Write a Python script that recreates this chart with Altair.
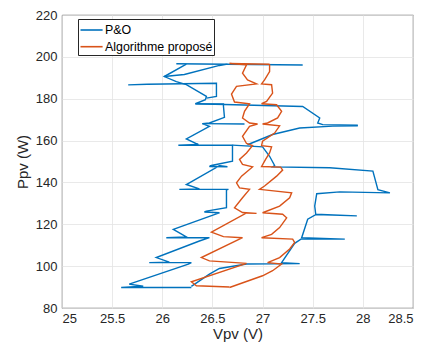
import altair as alt
import pandas as pd

series_names = ["P&O", "Algorithme proposé"]
series_colors = ["#0072BD", "#D95319"]
x_ticks = [25, 25.5, 26, 26.5, 27, 27.5, 28, 28.5]
y_ticks = [80, 100, 120, 140, 160, 180, 200, 220]

# P&O trajectory pieces (Vpv, Ppv)
po_segments_v = [
    [26.29, 25.59, 25.81, 25.67, 26.26, 26.29, 25.87, 26.07, 25.94, 26.37, 26.47, 26.04, 26.24, 26.11,
     26.56, 26.57, 26.42, 26.44, 26.64, 26.64, 26.66, 26.17, 26.37, 26.24, 26.57, 26.65, 26.47, 26.49,
     26.70, 26.70, 26.16, 26.36, 26.24, 26.47, 26.40, 26.47, 26.62, 26.61, 26.61, 26.33, 26.43, 26.44,
     26.24, 26.14, 26.02, 26.24],
    [26.40, 26.82],
    [25.66, 25.85, 26.54, 26.54, 26.44],
    [26.02, 26.22, 26.57, 26.65],
    [26.14, 27.40],
    [26.33, 27.40, 27.57, 27.55, 27.60, 27.95],
    [26.85, 27.10, 27.37, 27.70, 27.95],
    [26.70, 27.00, 27.07, 27.12, 27.10, 27.67, 28.10, 28.15, 28.27, 27.77, 27.54, 27.52, 27.53, 27.94,
     27.53, 27.45, 27.39, 27.82, 27.39, 27.32, 27.19, 27.37, 26.84, 26.57, 26.47, 26.29],
]
po_segments_p = [
    [89.8, 89.8, 90.4, 91.4, 101.0, 101.7, 101.7, 101.9, 104.1, 112.0, 113.6, 113.6, 114.0, 117.6,
     125.3, 125.5, 125.9, 126.3, 127.9, 136.5, 136.7, 136.7, 136.9, 139.0, 148.0, 147.5, 147.6, 148.1,
     150.1, 157.8, 157.8, 158.1, 160.8, 166.8, 168.1, 168.4, 171.1, 176.4, 177.5, 177.6, 179.5, 181.1,
     186.7, 188.2, 190.6, 196.5],
    [168.1, 167.9],
    [186.6, 186.9, 187.4, 181.1, 180.3],
    [190.6, 191.6, 195.9, 196.5],
    [196.7, 196.1],
    [177.6, 176.3, 170.8, 168.4, 167.6, 167.3],
    [158.0, 162.9, 166.0, 166.9, 167.0],
    [157.8, 157.0, 152.5, 148.1, 147.4, 147.0, 145.4, 136.5, 135.0, 135.5, 134.6, 128.7, 124.8, 124.0,
     124.6, 122.4, 113.6, 112.9, 113.1, 110.9, 101.7, 101.2, 101.0, 98.9, 96.2, 90.3],
]

# Algorithme proposé trajectory (Vpv, Ppv)
alg_segments_v = [
    [26.67, 26.34, 26.29, 26.84, 26.47, 26.39, 26.80, 26.61, 26.49, 26.84, 26.94, 26.80, 26.72, 26.80,
     26.87, 26.77, 26.74, 26.79, 26.90, 26.80, 26.77, 26.84, 26.90, 26.84, 26.80, 26.87, 26.95, 26.87,
     26.80, 26.82, 26.87, 26.72, 26.69, 26.74, 26.94, 26.85, 26.80, 26.84, 26.67, 27.07],
    [27.07, 27.07, 27.02, 26.99, 27.09, 27.10, 27.04, 26.99, 27.14, 27.19, 27.15, 27.05, 27.00, 27.17,
     27.12, 27.00, 26.99, 27.09, 27.07, 27.03, 26.99, 27.18, 27.20, 27.14, 27.02, 26.97, 27.29, 27.27,
     27.17, 27.00, 27.20, 27.24, 27.17, 27.09, 26.99, 27.30, 27.32, 27.27, 27.17, 27.05, 27.19, 27.10,
     27.00, 26.67],
]
alg_segments_p = [
    [90.0, 90.6, 92.5, 101.3, 102.5, 104.1, 113.6, 114.1, 116.3, 125.4, 125.2, 125.6, 127.9, 132.7,
     136.7, 137.4, 139.8, 143.0, 147.4, 148.6, 151.0, 154.1, 157.6, 158.6, 162.0, 166.8, 167.9, 168.4,
     170.8, 174.0, 177.6, 178.4, 182.2, 185.9, 187.1, 189.0, 192.2, 196.2, 196.8, 196.5],
    [196.5, 193.0, 189.0, 187.1, 186.7, 182.7, 178.7, 177.6, 177.1, 174.0, 170.8, 168.4, 167.9, 167.0,
     163.6, 159.7, 157.6, 157.0, 154.1, 151.0, 147.6, 147.3, 145.9, 143.0, 138.3, 136.7, 135.0, 132.7,
     128.7, 125.5, 124.8, 123.1, 118.4, 115.2, 113.6, 112.9, 111.3, 108.2, 104.1, 101.7, 101.0, 97.8,
     95.4, 89.8],
]

rows = []
for name, segs_v, segs_p, tag in [
    (series_names[0], po_segments_v, po_segments_p, "po"),
    (series_names[1], alg_segments_v, alg_segments_p, "alg"),
]:
    for k, (vs, ps) in enumerate(zip(segs_v, segs_p)):
        for i, (v, p) in enumerate(zip(vs, ps)):
            rows.append({"series": name, "seg": f"{tag}{k}", "idx": i, "V": v, "P": p})
df = pd.DataFrame(rows)

FONT = "Liberation Sans"
TXT = "#262626"

chart = alt.Chart(df).mark_line(strokeWidth=1.4, clip=True).encode(
    x=alt.X("V:Q",
            scale=alt.Scale(domain=[25, 28.5], nice=False, zero=False),
            axis=alt.Axis(values=x_ticks, format="~g", title="Vpv (V)", ticks=False, domain=False,
                          labelPadding=4, titlePadding=1,
                          labelFont=FONT, labelFontSize=13, labelColor=TXT,
                          titleFont=FONT, titleFontSize=15, titleColor=TXT, titleFontWeight="normal",
                          gridColor="#E3E3E3", gridWidth=0.8)),
    y=alt.Y("P:Q",
            scale=alt.Scale(domain=[80, 220], nice=False, zero=False),
            axis=alt.Axis(values=y_ticks, title="Ppv (W)", ticks=False, domain=False,
                          labelPadding=5, titlePadding=5,
                          labelFont=FONT, labelFontSize=13, labelColor=TXT,
                          titleFont=FONT, titleFontSize=15, titleColor=TXT, titleFontWeight="normal",
                          gridColor="#E3E3E3", gridWidth=0.8)),
    color=alt.Color("series:N",
                    scale=alt.Scale(domain=series_names, range=series_colors),
                    legend=alt.Legend(title=None, orient="none", legendX=16, legendY=4,
                                      symbolType="M-1,0L1.6,0", symbolSize=289, symbolStrokeWidth=1.6,
                                      labelFont=FONT, labelFontSize=12.4, labelColor="#000000",
                                      labelOffset=6.5, rowPadding=0.7, padding=1.5,
                                      strokeColor="#262626", fillColor="#ffffff",
                                      cornerRadius=0)),
    detail="seg:N",
    order="idx:Q",
).properties(
    width=351, height=293,
    background="#ffffff",
    autosize=alt.AutoSizeParams(type="none"),
    padding={"left": 54, "top": 7, "right": 8, "bottom": 37},
).configure_view(
    stroke="#262626", strokeWidth=0.8
)

chart.save("out.html", embed_options={"renderer": "svg", "actions": False})
